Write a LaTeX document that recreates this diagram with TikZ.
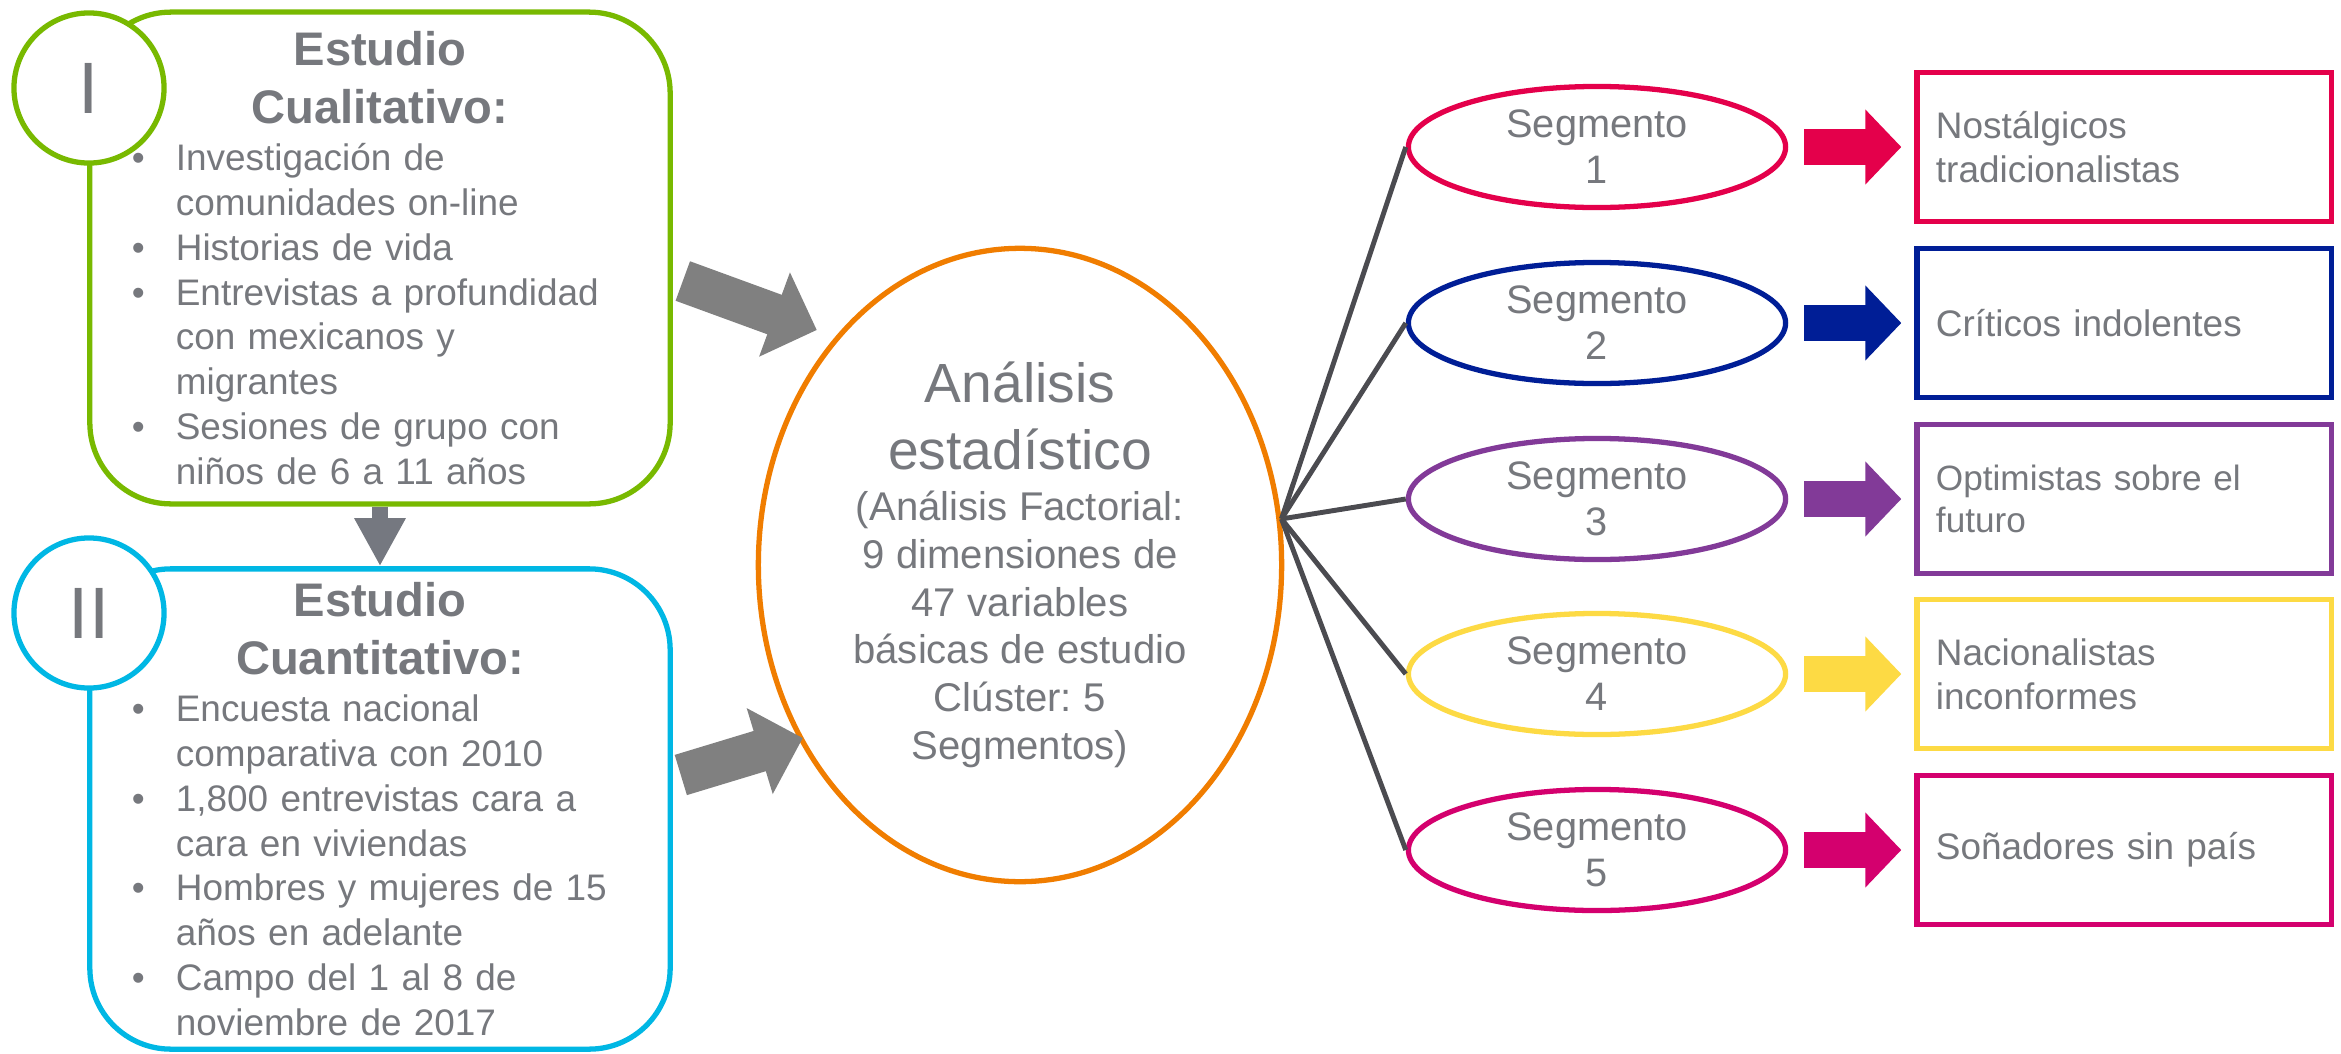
\documentclass[tikz,border=0pt]{standalone}
\usepackage{fontspec}
\setmainfont{Liberation Sans}
\usetikzlibrary{positioning,shapes.geometric,arrows.meta}
\definecolor{txtgray}{RGB}{118,120,125}
\definecolor{verde}{RGB}{120,185,0}
\definecolor{celeste}{RGB}{0,183,228}
\definecolor{naranja}{RGB}{240,125,0}
\definecolor{flecha}{RGB}{128,128,128}
\definecolor{flechaosc}{RGB}{117,120,128}
\definecolor{linea}{RGB}{75,75,80}
\definecolor{rojo}{RGB}{228,0,75}
\definecolor{azul}{RGB}{0,30,150}
\definecolor{morado}{RGB}{130,58,152}
\definecolor{amarillo}{RGB}{253,218,68}
\definecolor{rosa}{RGB}{212,0,110}
\newcommand{\punto}[1]{\par\leftskip=0.44cm\noindent\hspace*{-0.44cm}\makebox[0.44cm][l]{\textbullet}#1\par}
\frenchspacing
\begin{document}
\begin{tikzpicture}[x=0.01cm,y=-0.01cm,
    estudio/.style={rectangle,rounded corners=0.81cm,line width=1.5pt,fill=white,minimum width=5.80cm,
      text width=4.96cm,align=left,inner sep=0pt,text=txtgray,font=\fontsize{10.5}{12.75}\selectfont},
    numero/.style={circle,line width=1.5pt,fill=white,minimum size=1.5cm,inner sep=0pt,text=txtgray,
      font=\fontsize{20.7}{24}\selectfont},
    seg/.style={ellipse,line width=1.5pt,fill=white,minimum width=3.77cm,minimum height=1.21cm,inner sep=0pt,
      align=center,text=txtgray,font=\fontsize{11.3}{13.1}\selectfont},
    res/.style={rectangle,line width=1.5pt,minimum width=4.14cm,minimum height=1.49cm,text width=3.76cm,
      inner sep=0.19cm,align=left,text=txtgray,font=\fontsize{10.5}{12.5}\selectfont},
    bigarrow/.style={flecha,line width=0.42cm,-{Triangle[width=0.87cm,length=0.45cm]}},
    segarrow/.style={line width=0.36cm,-{Triangle[width=0.73cm,length=0.36cm]},shorten <=0.16cm,shorten >=0.13cm},
    hub/.style={draw=linea,line width=1.4pt}]
  \path[use as bounding box,fill=white] (0,0) rectangle (2341,1054);

  \path (380,258) node[estudio,draw=verde,minimum height=4.915cm] (qual) {%
    {\centering\fontsize{13.4}{16.5}\selectfont\bfseries Estudio\\Cualitativo:\par}\vspace{0.65pt}%
    \punto{Investigación de\\comunidades on-line}%
    \punto{Historias de vida}%
    \punto{Entrevistas a profundidad\\con mexicanos y\\migrantes}%
    \punto{Sesiones de grupo con\\niños de 6 a 11 años}};
  \path (380,809) node[estudio,draw=celeste,minimum height=4.80cm] (quan) {%
    {\centering\fontsize{13.4}{16.5}\selectfont\bfseries Estudio\\Cuantitativo:\par}\vspace{0.65pt}%
    \punto{Encuesta nacional\\comparativa con 2010}%
    \punto{1,800 entrevistas cara a\\cara en viviendas}%
    \punto{Hombres y mujeres de 15\\años en adelante}%
    \punto{Campo del 1 al 8 de\\noviembre de 2017}};
  \path (89,88) node[numero,draw=verde] (n1) {I};
  \path (89,613) node[numero,draw=celeste] (n2) {II};
  \draw[flechaosc,line width=0.16cm,-{Triangle[width=0.48cm,length=0.48cm]}] (qual.south) -- (quan.north);

  \path (1020,565) node[ellipse,draw=naranja,line width=1.5pt,minimum width=5.23cm,minimum height=6.33cm,
    inner sep=0pt,text width=3.6cm,align=center,text=txtgray] (ana) {%
    {\fontsize{15.7}{19}\selectfont Análisis\\estadístico\par}\vspace{0.9pt}%
    {\fontsize{11.4}{13.6}\selectfont (Análisis Factorial:\\9 dimensiones de\\47 variables\\básicas de estudio\\Clúster: 5\\Segmentos)\par}};
  \draw[bigarrow] ([shift={(10,23)}]qual.east) -- ++(134,49);
  \draw[bigarrow] ([shift={(8,-34)}]quan.east) -- ++(122,-37);

  \path (1597,147) node[seg,draw=rojo] (s1) {Segmento\\1};
  \path (1597,323) node[seg,draw=azul] (s2) {Segmento\\2};
  \path (1597,499) node[seg,draw=morado] (s3) {Segmento\\3};
  \path (1597,674) node[seg,draw=amarillo] (s4) {Segmento\\4};
  \path (1597,850) node[seg,draw=rosa] (s5) {Segmento\\5};

  \path node[res,draw=rojo,right=1.26cm of s1] (r1) {Nostálgicos\\tradicionalistas};
  \path node[res,draw=azul,right=1.26cm of s2] (r2) {Críticos indolentes};
  \path node[res,draw=morado,right=1.26cm of s3,font=\fontsize{10}{12}\selectfont] (r3) {Optimistas sobre el\\futuro};
  \path node[res,draw=amarillo,right=1.26cm of s4] (r4) {Nacionalistas\\inconformes};
  \path node[res,draw=rosa,right=1.26cm of s5] (r5) {Soñadores sin país};

  \draw[hub] (ana.10) -- (s1.west);
  \draw[hub] (ana.10) -- (s2.west);
  \draw[hub] (ana.10) -- (s3.west);
  \draw[hub] (ana.10) -- (s4.west);
  \draw[hub] (ana.10) -- (s5.west);

  \draw[segarrow,rojo] (s1) -- (r1);
  \draw[segarrow,azul] (s2) -- (r2);
  \draw[segarrow,morado] (s3) -- (r3);
  \draw[segarrow,amarillo] (s4) -- (r4);
  \draw[segarrow,rosa] (s5) -- (r5);
\end{tikzpicture}
\end{document}
